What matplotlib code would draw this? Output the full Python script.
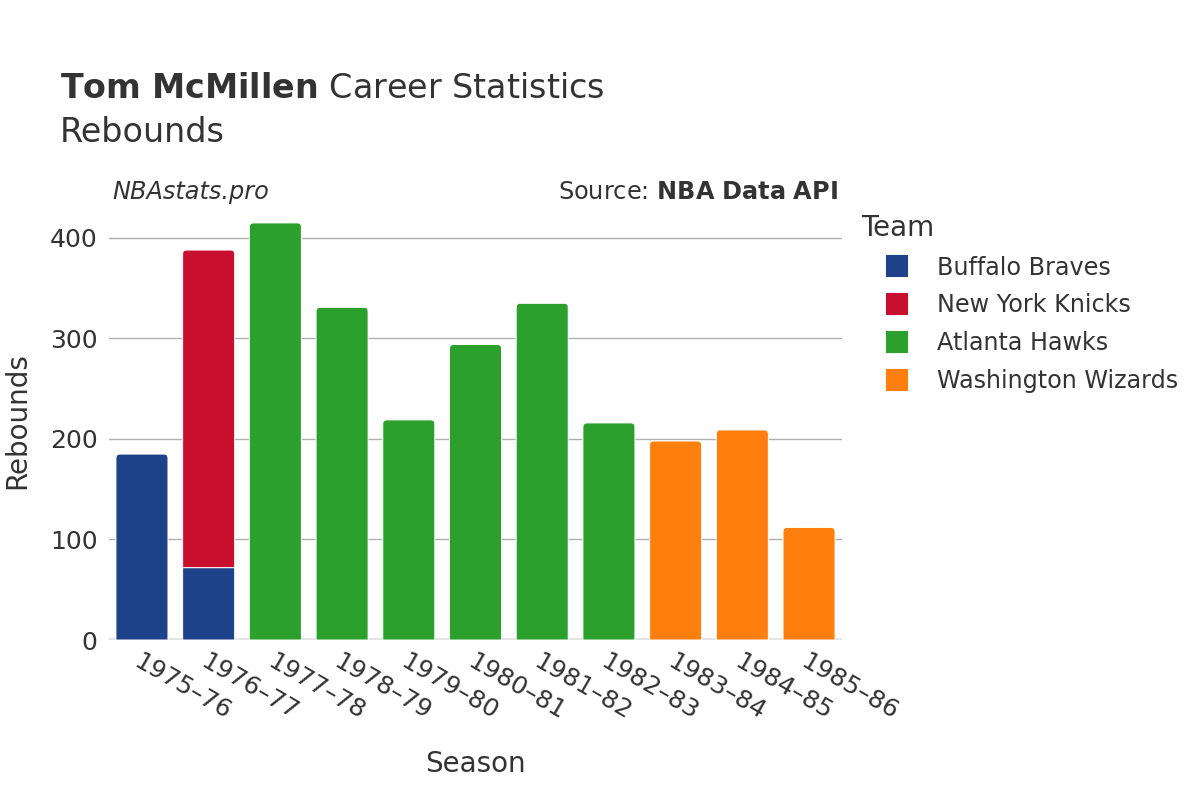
import matplotlib
matplotlib.use("Agg")
import matplotlib.pyplot as plt
from matplotlib.lines import Line2D
from matplotlib.path import Path
from matplotlib.patches import PathPatch
import numpy as np

seasons = ["1975–76", "1976–77", "1977–78", "1978–79", "1979–80", "1980–81",
           "1981–82", "1982–83", "1983–84", "1984–85", "1985–86"]
teams = ["Buffalo Braves", "New York Knicks", "Atlanta Hawks", "Washington Wizards"]
colors = ["#1d428a", "#c8102e", "#2ca02c", "#ff7f0e"]
buffalo = [185, 72, 0, 0, 0, 0, 0, 0, 0, 0, 0]
knicks = [0, 316, 0, 0, 0, 0, 0, 0, 0, 0, 0]
hawks = [0, 0, 415, 331, 219, 294, 335, 216, 0, 0, 0]
wizards = [0, 0, 0, 0, 0, 0, 0, 0, 198, 209, 112]
series = [buffalo, knicks, hawks, wizards]
yticks = [0, 100, 200, 300, 400]

plt.rcParams['font.family'] = ['DejaVu Sans']
txt = "#333333"

fig = plt.figure(figsize=(12, 8), dpi=100)
ax = fig.add_axes([0.0905, 0.2, 0.6115, 0.549])
ax.set_xlim(-0.5, len(seasons) - 0.5)
ax.set_ylim(0, 437)


def top_rounded(x0, y0, w, h, rx, ry):
    x1, y1 = x0 + w, y0 + h
    verts = [(x0, y0), (x0, y1 - ry), (x0, y1), (x0 + rx, y1),
             (x1 - rx, y1), (x1, y1), (x1, y1 - ry), (x1, y0), (x0, y0)]
    codes = [Path.MOVETO, Path.LINETO, Path.CURVE3, Path.CURVE3,
             Path.LINETO, Path.CURVE3, Path.CURVE3, Path.LINETO, Path.CLOSEPOLY]
    return Path(verts, codes)


x = np.arange(len(seasons))
bottom = np.zeros(len(seasons))
tops = np.sum(np.array(series, dtype=float), axis=0)
for vals, col in zip(series, colors):
    v = np.array(vals, dtype=float)
    mask = v > 0
    bars = ax.bar(x[mask], v[mask], width=0.78, bottom=bottom[mask], color=col)
    for rect, xi in zip(bars.patches, x[mask]):
        x0, y0 = rect.get_x(), rect.get_y()
        w, h = rect.get_width(), rect.get_height()
        rect.remove()
        is_top = abs((y0 + h) - tops[xi]) < 1e-6
        rx, ry = (0.06, 4.0) if is_top else (0.0, 0.0)
        patch = PathPatch(top_rounded(x0, y0, w, h, rx, ry), facecolor=col,
                          edgecolor="white", linewidth=0.7, zorder=3)
        ax.add_patch(patch)
    bottom += v

ax.set_yticks(yticks)
ax.set_yticklabels([str(t) for t in yticks], fontsize=18, color=txt)
ax.yaxis.grid(True, color="#b0b0b0", linewidth=1, zorder=0)
ax.axhline(0, color="#e5e5e5", linewidth=3, zorder=2)
for s in ax.spines.values():
    s.set_visible(False)
ax.tick_params(axis="both", length=0, pad=8)
ax.set_xticks(x)
ax.set_xticklabels(seasons, rotation=-30, ha="left", va="top",
                   rotation_mode="anchor", fontsize=18, color=txt)
ax.tick_params(axis="x", pad=7)

ax.set_xlabel("Season", fontsize=20, color=txt, labelpad=18)
ax.set_ylabel("Rebounds", fontsize=20, color=txt, labelpad=13)

fig.text(0.05, 0.89, r"$\bf{Tom\ McMillen}$" + " Career Statistics", fontsize=24,
         color=txt, va="center", ha="left")
fig.text(0.05, 0.835, "Rebounds", fontsize=24, color=txt, va="center", ha="left")
fig.text(0.094, 0.76, "NBAstats.pro", fontsize=17.3, style="italic", color=txt,
         va="center", ha="left")
fig.text(0.698, 0.76, r"Source: $\bf{NBA\ Data\ API}$", fontsize=17.3, color=txt,
         va="center", ha="right")

handles = [Line2D([], [], linestyle="none", marker="s", markersize=15,
                  markerfacecolor=c, markeredgecolor=c, markeredgewidth=1.5,
                  label=t) for t, c in zip(teams, colors)]
leg = fig.legend(handles=handles, loc="upper left", bbox_to_anchor=(0.7175, 0.7325),
                 frameon=False, fontsize=17.2, title="Team", title_fontsize=20,
                 handlelength=3.0, handletextpad=0.2, labelspacing=0.575,
                 borderaxespad=0, borderpad=0)
leg._legend_box.align = "left"
for t in leg.get_texts():
    t.set_color(txt)
leg.get_title().set_color(txt)

fig.savefig("out.png", dpi=100, facecolor="white")
